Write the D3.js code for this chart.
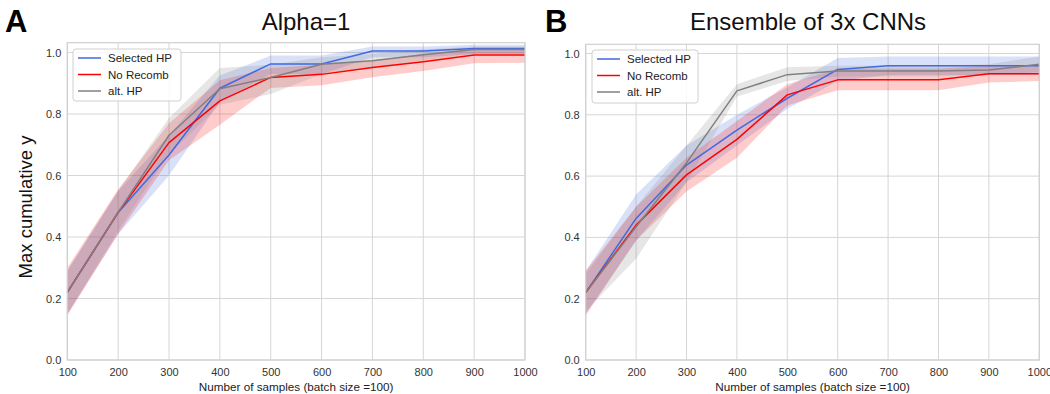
<!DOCTYPE html>
<html><head><meta charset="utf-8">
<script src="https://cdn.jsdelivr.net/npm/d3@7"></script>
<style>
html,body{margin:0;padding:0;background:#fff;}
svg{display:block;font-family:"Liberation Sans",Arial,Helvetica,sans-serif;}
</style></head>
<body>
<svg id="chart" width="1050" height="394"></svg>
<script>
// ---------- data ----------
const samples = [100,200,300,400,500,600,700,800,900,1000];
const xTicks = [100,200,300,400,500,600,700,800,900,1000];
const yTicks = [0.0,0.2,0.4,0.6,0.8,1.0];
const seriesNames = ["Selected HP","No Recomb","alt. HP"];

// Panel A: Alpha=1
const aSelected   = [0.22,0.48,0.667,0.884,0.963,0.963,1.005,1.005,1.013,1.013];
const aSelectedLo = [0.15,0.41,0.60,0.84,0.93,0.93,0.985,0.985,0.995,0.995];
const aSelectedHi = [0.29,0.55,0.73,0.925,0.99,0.99,1.02,1.02,1.025,1.025];
const aNoRecomb   = [0.22,0.48,0.707,0.843,0.919,0.929,0.951,0.970,0.992,0.992];
const aNoRecombLo = [0.145,0.41,0.65,0.765,0.885,0.894,0.92,0.94,0.965,0.967];
const aNoRecombHi = [0.30,0.555,0.77,0.91,0.95,0.96,0.975,0.995,1.012,1.012];
const aAltHP      = [0.22,0.48,0.731,0.882,0.919,0.962,0.973,0.993,1.01,1.01];
const aAltHPLo    = [0.15,0.42,0.67,0.83,0.865,0.93,0.95,0.975,0.995,0.995];
const aAltHPHi    = [0.29,0.55,0.787,0.95,0.96,0.985,0.995,1.01,1.02,1.02];

// Panel B: Ensemble of 3x CNNs
const bSelected   = [0.22,0.462,0.636,0.750,0.854,0.948,0.960,0.960,0.960,0.960];
const bSelectedLo = [0.15,0.39,0.58,0.70,0.82,0.91,0.93,0.93,0.93,0.93];
const bSelectedHi = [0.29,0.54,0.70,0.80,0.89,0.985,0.99,0.99,0.99,0.99];
const bNoRecomb   = [0.22,0.44,0.604,0.72,0.865,0.914,0.914,0.914,0.934,0.934];
const bNoRecombLo = [0.145,0.39,0.55,0.66,0.83,0.88,0.88,0.88,0.905,0.91];
const bNoRecombHi = [0.29,0.50,0.66,0.78,0.90,0.95,0.95,0.95,0.96,0.96];
const bAltHP      = [0.22,0.435,0.643,0.878,0.931,0.943,0.943,0.943,0.946,0.965];
const bAltHPLo    = [0.16,0.33,0.58,0.86,0.91,0.925,0.925,0.925,0.93,0.94];
const bAltHPHi    = [0.28,0.50,0.70,0.90,0.955,0.96,0.96,0.96,0.965,0.99];

const colors = ["#4169e1","#ff0000","#808080"];

const panels = [
  {letter:"A", title:"Alpha=1", left:67.3, right:525, top:42.7, bottom:360, yMax:1.032,
   lx:73, ly:49, lw:108, lh:52, titleX:306, letterX:5, ylabel:true,
   series:[[aSelected,aSelectedLo,aSelectedHi],[aNoRecomb,aNoRecombLo,aNoRecombHi],[aAltHP,aAltHPLo,aAltHPHi]]},
  {letter:"B", title:"Ensemble of 3x CNNs", left:585.7, right:1039.3, top:44.3, bottom:360, yMax:1.03,
   lx:592, ly:50, lw:106, lh:53, titleX:808, letterX:545, ylabel:false,
   series:[[bSelected,bSelectedLo,bSelectedHi],[bNoRecomb,bNoRecombLo,bNoRecombHi],[bAltHP,bAltHPLo,bAltHPHi]]}
];

const svg = d3.select("#chart");

panels.forEach(p => {
  const x = d3.scaleLinear().domain([100,1000]).range([p.left,p.right]);
  const y = d3.scaleLinear().domain([0,p.yMax]).range([p.bottom,p.top]);
  const g = svg.append("g");

  // grid
  g.append("g").selectAll("line").data(xTicks).join("line")
    .attr("x1",d=>x(d)).attr("x2",d=>x(d)).attr("y1",p.top).attr("y2",p.bottom)
    .attr("stroke","#d6d6d6").attr("stroke-width",1);
  g.append("g").selectAll("line").data(yTicks).join("line")
    .attr("x1",p.left).attr("x2",p.right).attr("y1",d=>y(d)).attr("y2",d=>y(d))
    .attr("stroke","#d6d6d6").attr("stroke-width",1);

  // bands
  p.series.forEach((s,i) => {
    const area = d3.area().x((d,k)=>x(samples[k])).y0((d,k)=>y(s[1][k])).y1((d,k)=>y(s[2][k]));
    g.append("path").datum(s[0]).attr("d",area).attr("fill",colors[i]).attr("fill-opacity",0.2);
  });
  // lines
  p.series.forEach((s,i) => {
    const line = d3.line().x((d,k)=>x(samples[k])).y(d=>y(d));
    g.append("path").datum(s[0]).attr("d",line).attr("fill","none")
      .attr("stroke",colors[i]).attr("stroke-width",1.5).attr("stroke-linejoin","round");
  });

  // frame
  g.append("rect").attr("x",p.left).attr("y",p.top).attr("width",p.right-p.left).attr("height",p.bottom-p.top)
    .attr("fill","none").attr("stroke","#d0d0d0").attr("stroke-width",1.2);

  // axes (tick labels via d3 axes)
  const xa = g.append("g").attr("transform",`translate(0,${p.bottom})`)
    .call(d3.axisBottom(x).tickValues(xTicks).tickSize(0).tickPadding(8).tickFormat(d3.format("d")));
  xa.select(".domain").remove();
  xa.selectAll("text").attr("font-size",11).attr("fill","#333").attr("font-family","Liberation Sans, Arial, sans-serif");
  const ya = g.append("g").attr("transform",`translate(${p.left},0)`)
    .call(d3.axisLeft(y).tickValues(yTicks).tickSize(0).tickPadding(6).tickFormat(d3.format(".1f")));
  ya.select(".domain").remove();
  ya.selectAll("text").attr("font-size",11).attr("fill","#333").attr("font-family","Liberation Sans, Arial, sans-serif");

  // x label
  g.append("text").attr("x",(p.left+p.right)/2).attr("y",391).attr("text-anchor","middle")
    .attr("font-size",11.7).attr("fill","#222").text("Number of samples (batch size =100)");

  // title
  g.append("text").attr("x",p.titleX).attr("y",30).attr("text-anchor","middle")
    .attr("font-size",24).attr("fill","#111").text(p.title);
  // panel letter
  g.append("text").attr("x",p.letterX).attr("y",32).attr("font-size",31).attr("font-weight","bold")
    .attr("fill","#000").text(p.letter);

  if (p.ylabel) {
    g.append("text").attr("transform","translate(32,207) rotate(-90)").attr("text-anchor","middle")
      .attr("font-size",18.5).attr("fill","#111").text("Max cumulative y");
  }

  // legend
  const lg = g.append("g").attr("transform",`translate(${p.lx},${p.ly})`);
  lg.append("rect").attr("width",p.lw).attr("height",p.lh).attr("rx",3)
    .attr("fill","#fff").attr("fill-opacity",0.85).attr("stroke","#d0d0d0").attr("stroke-width",1);
  seriesNames.forEach((n,i) => {
    const yy = 9 + i*16.5;
    lg.append("line").attr("x1",5).attr("x2",28).attr("y1",yy).attr("y2",yy)
      .attr("stroke",colors[i]).attr("stroke-width",1.5);
    lg.append("text").attr("x",35).attr("y",yy+4).attr("font-size",11.5).attr("fill","#222").text(n);
  });
});
</script>
</body></html>
